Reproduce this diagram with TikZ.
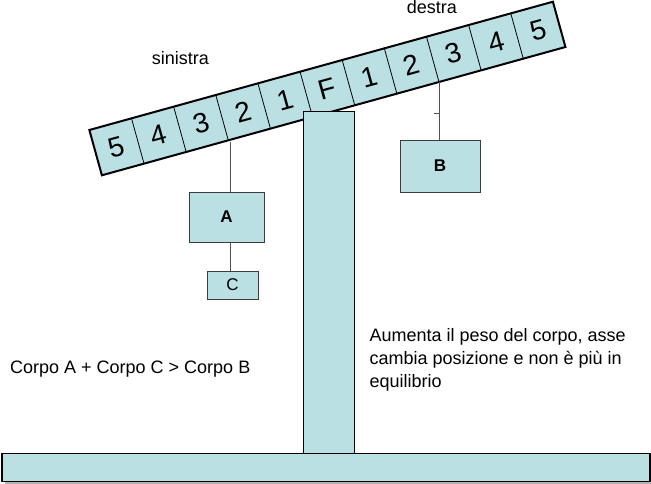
\documentclass[tikz,border=0pt]{standalone}
\usepackage{fontspec}
\setmainfont{Liberation Sans}
\definecolor{fillc}{RGB}{187,224,227}
\definecolor{edgec}{RGB}{60,60,60}
\begin{document}
\begin{tikzpicture}[x=1pt,y=-1pt,
  box/.style={draw=edgec, fill=fillc, line width=1pt, inner sep=0pt},
  digit/.style={font=\fontsize{28}{28}\selectfont, inner sep=0pt, rotate=15.47},
  hang/.style={draw=edgec!90, line width=1pt},
  lbl/.style={font=\fontsize{18}{23}\selectfont, inner sep=0pt, anchor=base west},
  bold/.style={font=\fontsize{17}{17}\selectfont\bfseries}]
\useasboundingbox (0,0) rectangle (651,483);
% base with shadow
\fill[gray!60] (4.5,456) rectangle (652.5,484.5);
\node[draw=black, fill=fillc, line width=1.4pt, minimum width=648pt, minimum height=28.4pt, inner sep=0pt] (base) at (326,467.5) {};
% beam
\begin{scope}[shift={(327.4,88.5)}, rotate=15.47]
  \draw[black, fill=fillc, line width=2pt] (-240.5,-23.5) rectangle (240.5,23.5);
  \foreach \k in {1,...,10}
    \draw[black, line width=0.8pt] ({-240.5+\k*43.727},-23.5) -- ++(0,47);
  \foreach \t [count=\i] in {5,4,3,2,1,F,1,2,3,4,5}
    \node[digit] (d\i) at ({-240.5+(\i-0.5)*43.727},0) {\t};
\end{scope}
% post
\node[draw=black, fill=fillc, line width=1pt, minimum width=51pt, minimum height=341.6pt, inner sep=0pt] (post) at (328.8,282.5) {};
% boxes
\node[box, minimum width=75pt, minimum height=50pt] (A) at (226.5,217) {};
\node[bold] at (A.center) {A};
\node[box, minimum width=51pt, minimum height=28pt] (C) at (232.5,285) {};
\node[font=\fontsize{17}{17}\selectfont] at (C.center) {C};
\node[box, minimum width=80pt, minimum height=52pt] (B) at (440,166) {};
\node[bold] at (B.center) {B};
% hangers
\coordinate (hA) at (230,141.5);
\coordinate (hB) at (439.3,82);
\coordinate (tk) at (434,113);
\draw[hang] (hA) -- (hA |- A.north);
\draw[hang] (hA |- A.south) -- (hA |- C.north);
\draw[hang] (hB) -- (hB |- B.north);
\draw[hang] (tk) -- (tk -| hB);
% labels
\node[lbl] (sin) at (151.7,64) {sinistra};
\node[lbl] (des) at (406.7,13.3) {destra};
\node[lbl] (eq) at (10,373.3) {Corpo A + Corpo C > Corpo B};
\node[lbl, align=left] (note) at (369.3,387) {Aumenta il peso del corpo, asse\\cambia posizione e non è più in\\equilibrio};
\end{tikzpicture}
\end{document}
